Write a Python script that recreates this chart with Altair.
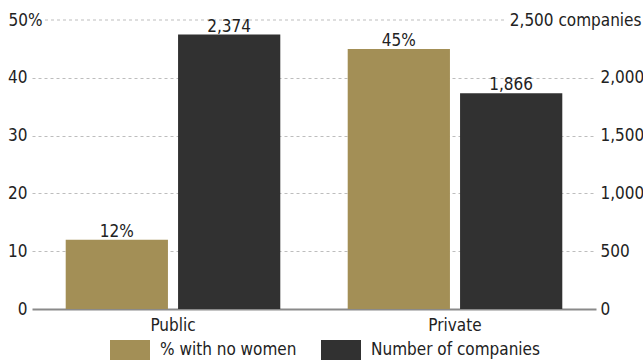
import altair as alt
import pandas as pd

categories = ["Public", "Private"]
series_names = ["% with no women", "Number of companies"]
pct_no_women = [12, 45]
num_companies = [2374, 1866]
pct_ticks = [0, 10, 20, 30, 40, 50]
count_ticks = [0, 500, 1000, 1500, 2000, 2500]

rows = []
for c, p, n in zip(categories, pct_no_women, num_companies):
    rows.append({"category": c, "series": series_names[0], "value": p, "label": f"{p}%"})
    rows.append({"category": c, "series": series_names[1], "value": n, "label": f"{n:,}"})
df = pd.DataFrame(rows)
top_line = pd.DataFrame({"value": [50]})

FONT = "DejaVu Sans Condensed, DejaVu Sans, sans-serif"
FS = 17
GOLD = "#a38f56"
DARK = "#313131"
TXT = "#222222"
GRID = "#bdbdbd"

x_enc = alt.X(
    "category:N", sort=categories, title=None,
    scale=alt.Scale(domain=categories, paddingInner=0, paddingOuter=0),
    axis=alt.Axis(labelAngle=0, ticks=False, labelPadding=8, domainColor="#8a8a8a",
                  domainWidth=2, labelFontSize=FS, labelColor=TXT, labelFont=FONT),
)
xo_enc = alt.XOffset(
    "series:N",
    scale=alt.Scale(domain=series_names, paddingInner=0.09, paddingOuter=0.30),
)
color_enc = alt.Color(
    "series:N",
    scale=alt.Scale(domain=series_names, range=[GOLD, DARK]),
    legend=alt.Legend(
        title=None, orient="none", legendX=78, legendY=310, direction="horizontal",
        symbolType="M-1,-0.5H1V0.5H-1Z", symbolSize=1600, symbolStrokeWidth=0,
        symbolOpacity=1, labelFontSize=FS, labelFont=FONT, labelColor=TXT,
        labelOffset=10, columnPadding=24, padding=0, labelLimit=400,
    ),
)

y_pct = alt.Y(
    "value:Q", title=None,
    scale=alt.Scale(domain=[0, 50], nice=False),
    axis=alt.Axis(
        orient="left", values=pct_ticks, ticks=False, domain=False,
        labelExpr="datum.value == 50 ? '50%' : format(datum.value, 'd')",
        labelAlign={"condition": {"test": "datum.value == 50", "value": "left"}, "value": "right"},
        labelPadding={"condition": {"test": "datum.value == 50", "value": 24}, "value": 5},
        labelBaseline="middle",
        grid=True, gridDash=[3, 3], gridColor=GRID,
        gridOpacity={"condition": {"test": "datum.value == 50 || datum.value == 0", "value": 0}, "value": 1},
        labelFontSize=FS, labelColor=TXT, labelFont=FONT,
    ),
)
y_cnt = alt.Y(
    "value:Q", title=None,
    scale=alt.Scale(domain=[0, 2500], nice=False),
    axis=alt.Axis(
        orient="right", values=count_ticks, ticks=False, domain=False,
        labelExpr="datum.value == 2500 ? '2,500 companies' : format(datum.value, ',')",
        labelAlign={"condition": {"test": "datum.value == 2500", "value": "right"}, "value": "left"},
        labelPadding={"condition": {"test": "datum.value == 2500", "value": 45}, "value": 4},
        labelBaseline="middle", labelLimit=400,
        grid=False, labelFontSize=FS, labelColor=TXT, labelFont=FONT,
    ),
)

base = alt.Chart(df)

pct_bars = base.mark_bar().encode(x=x_enc, xOffset=xo_enc, y=y_pct, color=color_enc).transform_filter(
    alt.datum.series == series_names[0])
pct_text = base.mark_text(dy=-3, baseline="alphabetic", fontSize=FS, font=FONT, color=TXT).encode(
    x=x_enc, xOffset=xo_enc, y=y_pct, text="label:N").transform_filter(
    alt.datum.series == series_names[0])
top_rule = alt.Chart(top_line).mark_rule(strokeDash=[3, 3], color=GRID, strokeWidth=1).encode(
    y=y_pct, x=alt.value(13), x2=alt.value(475))

cnt_bars = base.mark_bar().encode(x=x_enc, xOffset=xo_enc, y=y_cnt, color=color_enc).transform_filter(
    alt.datum.series == series_names[1])
cnt_text = base.mark_text(dy=-3, baseline="alphabetic", fontSize=FS, font=FONT, color=TXT).encode(
    x=x_enc, xOffset=xo_enc, y=y_cnt, text="label:N").transform_filter(
    alt.datum.series == series_names[1])

layer_pct = alt.layer(top_rule, pct_bars, pct_text)
layer_cnt = alt.layer(cnt_bars, cnt_text)

chart = (
    alt.layer(layer_pct, layer_cnt)
    .resolve_scale(y="independent")
    .properties(
        width=564, height=289,
        autosize=alt.AutoSizeParams(type="none"),
        padding={"left": 32, "top": 20, "right": 47, "bottom": 53},
    )
    .configure_view(stroke=None)
)

chart.save("out.html", embed_options={"renderer": "svg", "actions": False})
